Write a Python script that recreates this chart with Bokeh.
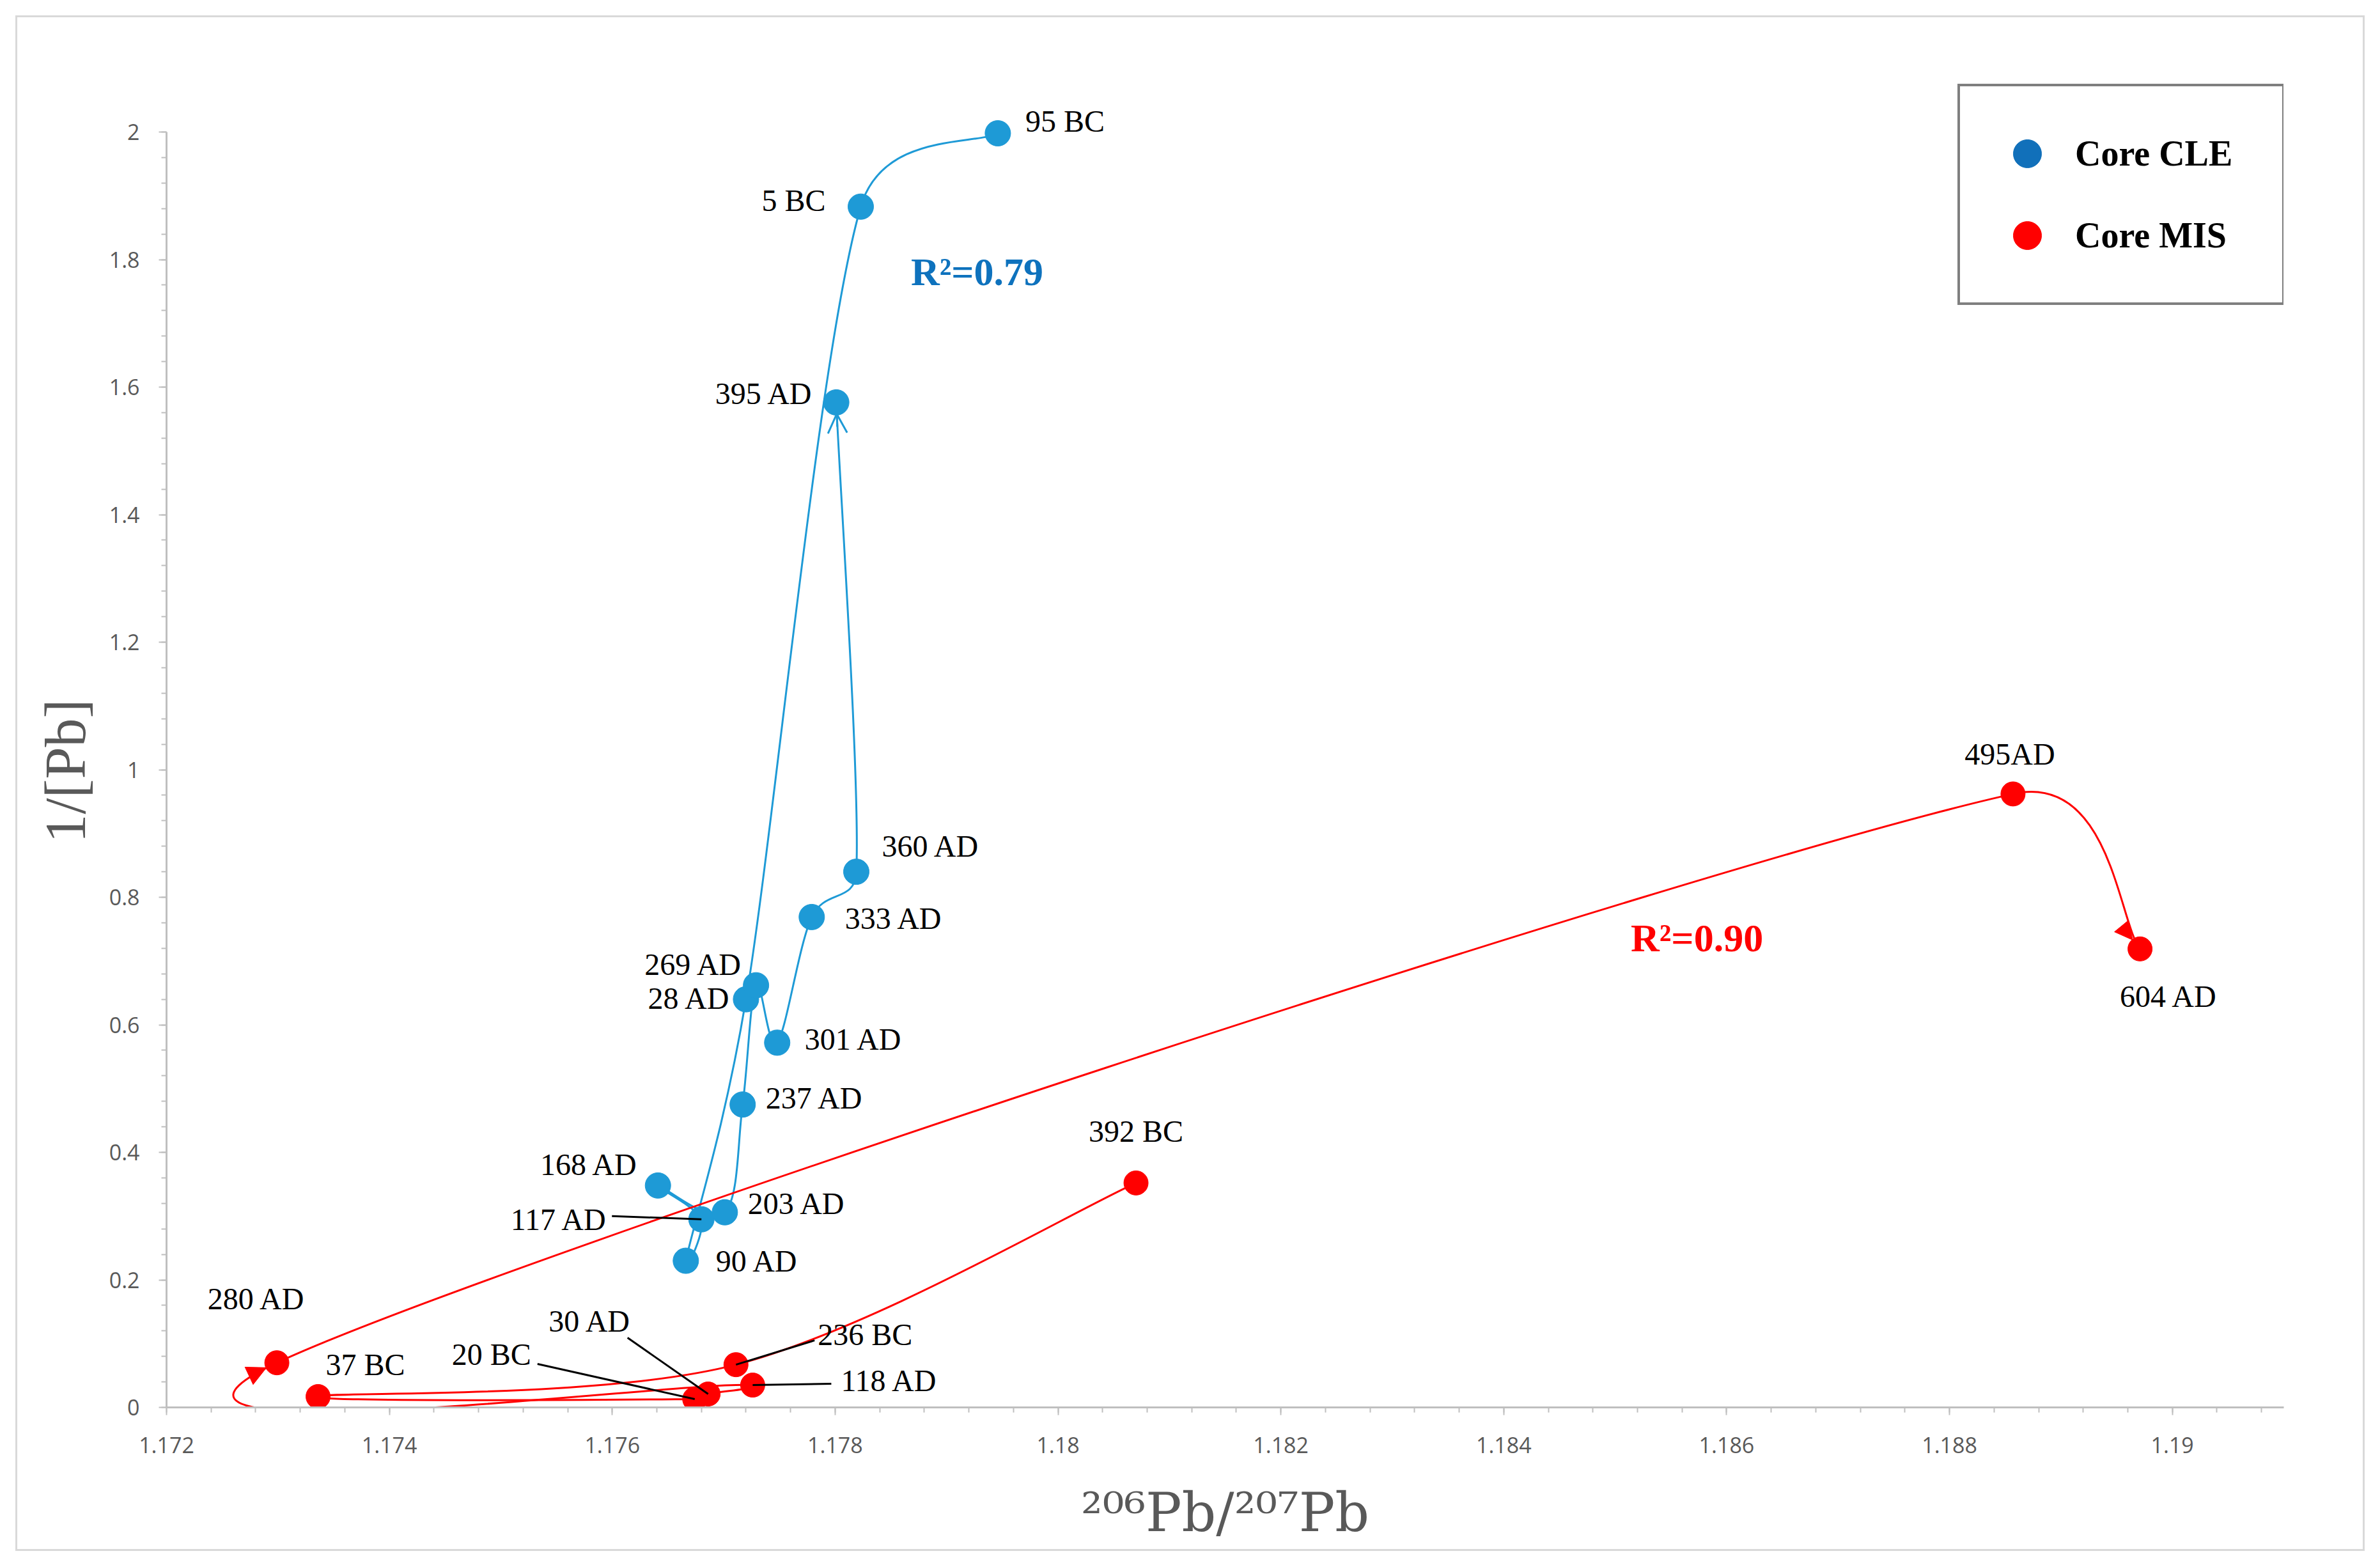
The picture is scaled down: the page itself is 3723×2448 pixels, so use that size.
import math
from bokeh.plotting import figure
from bokeh.models import (ColumnDataSource, SingleIntervalTicker, CustomJSTickFormatter,
                          Arrow, NormalHead, OpenHead, Label, Legend, LegendItem,
                          Range1d, Title)
from bokeh.embed import file_html
from bokeh.resources import INLINE
from bokeh.core.properties import value

# ---------------- data ----------------
cle_labels = ["95 BC", "5 BC", "28 AD", "90 AD", "117 AD", "168 AD", "203 AD",
              "237 AD", "269 AD", "301 AD", "333 AD", "360 AD", "395 AD"]
cle_x = [1.17946, 1.17823, 1.17720, 1.17666, 1.17680, 1.17641, 1.17701,
         1.17717, 1.17729, 1.17748, 1.17779, 1.17819, 1.17801]
cle_y = [1.998, 1.883, 0.640, 0.230, 0.295, 0.348, 0.306,
         0.475, 0.662, 0.572, 0.769, 0.840, 1.576]

mis_labels = ["392 BC", "236 BC", "37 BC", "20 BC", "30 AD", "118 AD",
              "280 AD", "495AD", "604 AD"]
mis_x = [1.18070, 1.17711, 1.17336, 1.17674, 1.17686, 1.17726,
         1.17299, 1.18857, 1.18971]
mis_y = [0.352, 0.067, 0.017, 0.013, 0.021, 0.035,
         0.070, 0.962, 0.719]

r2_cle = "R\u00b2=0.79"
r2_mis = "R\u00b2=0.90"
x_title = "\u00b2\u2070\u2076Pb/\u00b2\u2070\u2077Pb"
y_title = "1/[Pb]"

# ---------------- layout / style (not data) ----------------
AX_X0, AX_X1 = 1.172, 1.191      # axis extent
AX_Y0, AX_Y1 = 0.0, 2.0
FRAME_W = 3312
PXX = FRAME_W / (AX_X1 - AX_X0)  # px per data unit
PXY = 1995 / (AX_Y1 - AX_Y0)
FRAME_H = 2161
# page positions of the frame (left / bottom) and of the figure box
PAGE_FRAME_LEFT, PAGE_FRAME_BOTTOM = 260, 2201
BOX = 24          # outer grey border offset on the page
BW = 3            # border width
ORIGIN = BOX + BW
FIG_W, FIG_H = 3699 - BW - ORIGIN, 2426 - BW - ORIGIN
FRAME_LEFT = PAGE_FRAME_LEFT - ORIGIN
FRAME_BOTTOM = PAGE_FRAME_BOTTOM - ORIGIN
Y_END = AX_Y0 + FRAME_H / PXY

BLUE = "#1E9AD6"
BLUE_DARK = "#1170BA"
RED = "#FF0000"
SERIF = "Liberation Serif"
GREY_TXT = "#595959"

# label placement: (align, dx, dy) in screen pixels (dy down)
cle_lab_pos = [("left", 43, -19), ("right", -55, -10), ("right", -24, -2),
               ("left", 47, 0), ("right", -147, 0), ("right", -31, -33),
               ("left", 36, -14), ("left", 36, -10), ("right", -21, -33),
               ("left", 43, -5), ("left", 52, 2), ("left", 40, -40),
               ("right", -36, -14)]
mis_lab_pos = [("center", 0, -81), ("left", 128, -47), ("left", 12, -50),
               ("right", -256, -70), ("right", -120, -114), ("left", 138, -7),
               ("right", 45, -100), ("center", -5, -62), ("center", 45, 74)]
# leader lines: (index, dx, dy) end point from marker in screen px
cle_leaders = [(4, -140, -5)]
mis_leaders = [(3, -246, -55), (4, -126, -88), (1, 123, -38), (5, 123, -2)]


def excel_smooth(xs, ys):
    P = [(x * PXX, y * PXY) for x, y in zip(xs, ys)]
    n = len(P)
    out = {k: [] for k in ("x0", "y0", "x1", "y1", "cx0", "cy0", "cx1", "cy1")}
    c2s = []
    for i in range(n - 1):
        p0 = P[i - 1] if i > 0 else P[i]
        p1, p2 = P[i], P[i + 1]
        p3 = P[i + 2] if i + 2 < n else P[i + 1]
        d02 = math.dist(p0, p2)
        d12 = math.dist(p1, p2)
        d13 = math.dist(p1, p3)
        f0 = min(1 / 6, d12 / (2 * d02)) if d02 > 0 else 0
        f1 = min(1 / 6, d12 / (2 * d13)) if d13 > 0 else 0
        c1 = (p1[0] + f0 * (p2[0] - p0[0]), p1[1] + f0 * (p2[1] - p0[1]))
        c2 = (p2[0] - f1 * (p3[0] - p1[0]), p2[1] - f1 * (p3[1] - p1[1]))
        out["x0"].append(p1[0] / PXX); out["y0"].append(p1[1] / PXY)
        out["x1"].append(p2[0] / PXX); out["y1"].append(p2[1] / PXY)
        out["cx0"].append(c1[0] / PXX); out["cy0"].append(c1[1] / PXY)
        out["cx1"].append(c2[0] / PXX); out["cy1"].append(c2[1] / PXY)
        c2s.append(c2)
    return out, P, c2s


def add_arrow(p, P, c2s, seg, head, color, radius):
    c2 = c2s[seg]
    end = P[seg + 1]
    dx, dy = end[0] - c2[0], end[1] - c2[1]
    L = math.hypot(dx, dy)
    ux, uy = dx / L, dy / L
    tip = (end[0] - ux * radius, end[1] - uy * radius)
    start = (tip[0] - ux * 20, tip[1] - uy * 20)
    p.add_layout(Arrow(end=head, x_start=start[0] / PXX, y_start=start[1] / PXY,
                       x_end=tip[0] / PXX, y_end=tip[1] / PXY,
                       line_color=color, line_width=3))


p = figure(frame_width=FRAME_W, frame_height=FRAME_H,
           x_range=Range1d(AX_X0, AX_X1), y_range=Range1d(AX_Y0, Y_END),
           output_backend="svg", toolbar_location=None,
           min_border_left=FRAME_LEFT,
           min_border_right=FIG_W - FRAME_LEFT - FRAME_W,
           min_border_top=FRAME_BOTTOM - FRAME_H,
           min_border_bottom=FIG_H - FRAME_BOTTOM)
p.styles = {"border": f"{BW}px solid #D9D9D9",
            "margin-left": f"{BOX}px", "margin-top": f"{BOX}px"}
p.xgrid.visible = False
p.ygrid.visible = False
p.outline_line_color = None
p.background_fill_color = "white"

p.xaxis.ticker = SingleIntervalTicker(interval=0.002, num_minor_ticks=5)
p.yaxis.ticker = SingleIntervalTicker(interval=0.2, num_minor_ticks=5)
p.yaxis.bounds = (AX_Y0, AX_Y1)
p.xaxis.formatter = CustomJSTickFormatter(code="return String(Number(tick.toFixed(3)));")
p.yaxis.formatter = CustomJSTickFormatter(code="return String(Number(tick.toFixed(1)));")
for ax in (p.xaxis, p.yaxis):
    ax.axis_line_color = "#BFBFBF"
    ax.axis_line_width = 3
    ax.major_tick_line_color = "#BFBFBF"
    ax.minor_tick_line_color = "#BFBFBF"
    ax.major_tick_line_width = 2
    ax.minor_tick_line_width = 2
    ax.major_tick_in = 0
    ax.major_tick_out = 12
    ax.minor_tick_in = 0
    ax.minor_tick_out = 8
    ax.major_label_text_font = "Open Sans"
    ax.major_label_text_font_size = "34px"
    ax.major_label_text_color = GREY_TXT
p.xaxis.major_label_standoff = 34
p.yaxis.major_label_standoff = 30

# x title: the axis label (frame is centred under the axis)
p.xaxis.axis_label = x_title
p.xaxis.axis_label_text_font = "DejaVu Serif"
p.xaxis.axis_label_text_font_size = "84px"
p.xaxis.axis_label_text_font_style = "normal"
p.xaxis.axis_label_text_color = GREY_TXT
p.xaxis.axis_label_standoff = 41
# y title: a side title, positioned like the original
p.add_layout(Title(text=y_title, align="left", offset=PAGE_FRAME_BOTTOM - 1318,
                   vertical_align="middle", standoff=30,
                   text_font=SERIF, text_font_size="90px",
                   text_font_style="normal", text_color=GREY_TXT), "left")

# smoothed lines
cle_seg, cle_P, cle_c2 = excel_smooth(cle_x, cle_y)
mis_seg, mis_P, mis_c2 = excel_smooth(mis_x, mis_y)
p.bezier(source=ColumnDataSource(cle_seg), x0="x0", y0="y0", x1="x1", y1="y1",
         cx0="cx0", cy0="cy0", cx1="cx1", cy1="cy1", line_color=BLUE, line_width=3)
p.bezier(source=ColumnDataSource(mis_seg), x0="x0", y0="y0", x1="x1", y1="y1",
         cx0="cx0", cy0="cy0", cx1="cx1", cy1="cy1", line_color=RED, line_width=3)

add_arrow(p, cle_P, cle_c2, len(cle_x) - 2,
          OpenHead(size=30, line_color=BLUE, line_width=3), BLUE, 18)
add_arrow(p, mis_P, mis_c2, 5,
          NormalHead(size=30, fill_color=RED, line_color=RED), RED, 18)
add_arrow(p, mis_P, mis_c2, len(mis_x) - 2,
          NormalHead(size=28, fill_color=RED, line_color=RED), RED, 18)

# markers
cle_r = p.scatter(cle_x, cle_y, size=40, fill_color=BLUE, line_color=BLUE)
mis_r = p.scatter(mis_x, mis_y, size=38, fill_color=RED, line_color=RED)


# leader lines
def leaders(xs, ys, spec):
    x0 = [xs[i] for i, _, _ in spec]
    y0 = [ys[i] for i, _, _ in spec]
    x1 = [xs[i] + dx / PXX for i, dx, _ in spec]
    y1 = [ys[i] - dy / PXY for i, _, dy in spec]
    p.segment(x0, y0, x1, y1, line_color="black", line_width=3)


leaders(cle_x, cle_y, cle_leaders)
leaders(mis_x, mis_y, mis_leaders)


# point labels
def labels(xs, ys, names, pos, size):
    for align in ("left", "right", "center"):
        idx = [i for i, q in enumerate(pos) if q[0] == align]
        if not idx:
            continue
        src = ColumnDataSource(dict(
            x=[xs[i] for i in idx], y=[ys[i] for i in idx],
            t=[names[i] for i in idx],
            dx=[pos[i][1] for i in idx], dy=[pos[i][2] for i in idx]))
        p.text(x="x", y="y", text="t", x_offset="dx", y_offset="dy", source=src,
               text_align=align, text_baseline="middle", text_color="black",
               text_font=value(SERIF), text_font_size=size)


labels(cle_x, cle_y, cle_labels, cle_lab_pos, "48px")
labels(mis_x, mis_y, mis_labels, mis_lab_pos, "48px")

# R^2 annotations
p.add_layout(Label(x=1.17868, y=1.781, text=r2_cle, text_font=SERIF,
                   text_font_style="bold", text_color="#0E72BD",
                   text_font_size="62px", text_baseline="middle"))
p.add_layout(Label(x=1.18514, y=0.736, text=r2_mis, text_font=SERIF,
                   text_font_style="bold", text_color=RED,
                   text_font_size="62px", text_baseline="middle"))

# legend (swatch renderers are hidden; legend shows them unfaded)
d1 = p.scatter(cle_x[:1], cle_y[:1], size=40, fill_color=BLUE_DARK, line_color=BLUE_DARK)
d2 = p.scatter(mis_x[:1], mis_y[:1], size=40, fill_color=RED, line_color=RED)
d1.visible = False
d2.visible = False
legend = Legend(items=[LegendItem(label="Core CLE", renderers=[d1]),
                       LegendItem(label="Core MIS", renderers=[d2])],
                location=(3062 - PAGE_FRAME_LEFT, PAGE_FRAME_BOTTOM - 477),
                orientation="vertical",
                glyph_width=110, glyph_height=110, label_height=110,
                label_width=274, spacing=18, padding=50, label_standoff=20,
                margin=0, border_line_color="black", border_line_width=4,
                background_fill_color="white", background_fill_alpha=1,
                inactive_fill_alpha=0, click_policy="none",
                label_text_font=SERIF, label_text_font_style="bold",
                label_text_font_size="56px", label_text_color="black",
                label_text_baseline="middle")
p.add_layout(legend)

open("out.html", "w").write(file_html(p, INLINE))
